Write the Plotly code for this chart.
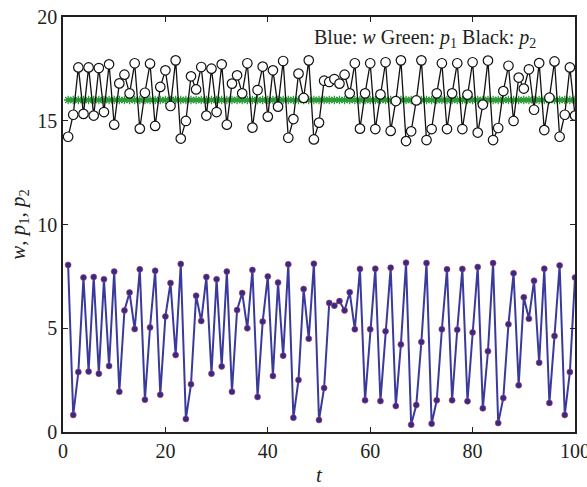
import plotly.graph_objects as go

t = list(range(1, 101))

w = [8.05, 0.82, 2.89, 7.44, 2.91, 7.47, 2.81, 7.36, 3.18, 7.73,
     1.94, 5.86, 6.72, 4.96, 7.84, 1.56, 5.04, 7.77, 1.80, 5.57,
     7.18, 3.71, 8.10, 0.63, 2.30, 6.57, 5.35, 7.47, 2.81, 7.36,
     3.16, 7.73, 1.94, 5.88, 6.70, 5.00, 7.81, 1.69, 5.32, 7.50,
     2.70, 7.20, 3.68, 8.08, 0.69, 2.51, 6.89, 4.50, 8.11, 0.58,
     2.12, 6.22, 6.09, 6.31, 5.86, 6.73, 4.95, 7.86, 1.53, 4.95,
     7.87, 1.49, 4.85, 7.92, 1.25, 4.22, 8.16, 0.35, 1.30, 4.34,
     8.14, 0.40, 1.53, 4.95, 7.84, 1.53, 4.93, 7.86, 1.48, 4.80,
     7.95, 1.14, 3.89, 8.14, 0.43, 1.64, 5.19, 7.65, 2.25, 6.49,
     5.46, 7.29, 3.34, 7.87, 1.40, 4.63, 8.03, 0.82, 2.89, 7.44]

p1 = [16.0] * 100

p2 = [14.23, 15.29, 17.57, 15.33, 17.57, 15.25, 17.54, 15.42, 17.72, 14.81,
      16.80, 17.22, 16.32, 17.77, 14.62, 16.35, 17.75, 14.75, 16.63, 17.43,
      15.71, 17.91, 14.14, 14.99, 17.14, 16.51, 17.59, 15.25, 17.51, 15.42,
      17.72, 14.81, 16.79, 17.19, 16.32, 17.77, 14.67, 16.48, 17.61, 15.20,
      17.43, 15.68, 17.88, 14.18, 15.08, 17.27, 16.10, 17.91, 14.10, 14.91,
      16.93, 16.87, 17.01, 16.79, 17.22, 16.32, 17.77, 14.62, 16.32, 17.77,
      14.60, 16.27, 17.82, 14.51, 15.95, 17.91, 14.02, 14.49, 15.98, 17.91,
      14.07, 14.60, 16.32, 17.77, 14.60, 16.32, 17.77, 14.60, 16.26, 17.82,
      14.43, 15.78, 17.90, 14.07, 14.65, 16.43, 17.65, 14.99, 17.08, 16.55,
      17.48, 15.53, 17.78, 14.55, 16.11, 17.86, 14.23, 15.29, 17.57, 15.25]

x_ticks = [0, 20, 40, 60, 80, 100]
y_ticks = [0, 5, 10, 15, 20]

FONT = "Liberation Serif"
TXT = "#231f20"

fig = go.Figure()

fig.add_trace(go.Scatter(
    x=t, y=p1, mode="lines+markers",
    line=dict(color="#3cb44b", width=3.5),
    marker=dict(symbol="asterisk-open", size=7, color="#2a9a36",
                line=dict(color="#2a9a36", width=1.3)),
    showlegend=False))

fig.add_trace(go.Scatter(
    x=t, y=p2, mode="lines+markers",
    line=dict(color="#111111", width=1.3),
    marker=dict(symbol="circle", size=9.5, color="white",
                line=dict(color="#111111", width=1.2)),
    showlegend=False))

fig.add_trace(go.Scatter(
    x=t, y=w, mode="lines+markers",
    line=dict(color="#3a3a9c", width=2),
    marker=dict(symbol="circle", size=6, color="#2e2d8f",
                line=dict(color="#c0394a", width=0.6)),
    showlegend=False))

fig.add_annotation(
    x=0.928, y=0.947, xref="paper", yref="paper",
    xanchor="right", yanchor="middle", showarrow=False,
    text="Blue: <i>w</i> Green: <i>p</i><sub>1</sub> Black: <i>p</i><sub>2</sub>",
    font=dict(family=FONT, size=20, color=TXT))

axis_common = dict(
    showgrid=False, zeroline=False, showline=True, linecolor="#231f20",
    linewidth=1.5, mirror="ticks", ticks="inside", ticklen=5, tickwidth=1.2,
    tickcolor="#231f20", tickfont=dict(family=FONT, size=20, color=TXT),
    automargin=False, ticklabeloverflow="allow")

fig.update_xaxes(range=[0, 100], tickvals=x_ticks,
                 title=dict(text="<i>t</i>", font=dict(family=FONT, size=21, color=TXT),
                            standoff=7),
                 **axis_common)
fig.update_yaxes(range=[0, 20], tickvals=y_ticks,
                 title=dict(text="<i>w</i>, <i>p</i><sub>1</sub>, <i>p</i><sub>2</sub>",
                            font=dict(family=FONT, size=21, color=TXT), standoff=6),
                 **axis_common)

fig.update_layout(
    width=587, height=487,
    margin=dict(l=63, r=12, t=17, b=55),
    paper_bgcolor="white", plot_bgcolor="white",
    font=dict(family=FONT, color=TXT))

fig.write_html("out.html")
